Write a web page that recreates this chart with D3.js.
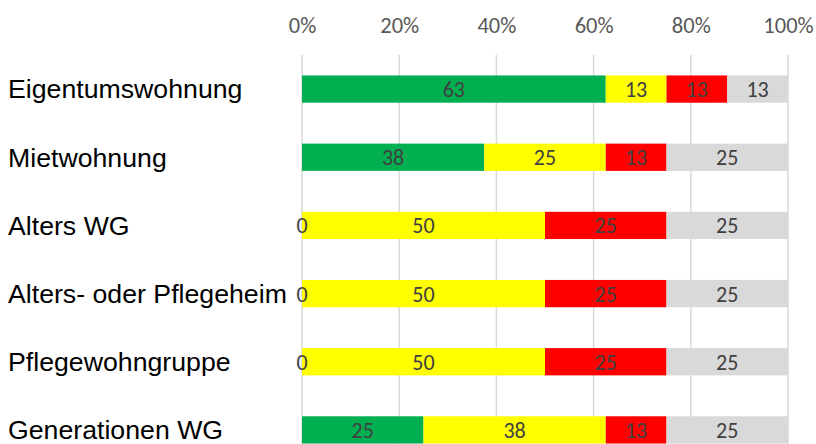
<!DOCTYPE html>
<html><head><meta charset="utf-8">
<script src="https://cdn.jsdelivr.net/npm/d3@7"></script>
<style>
html,body{margin:0;padding:0;background:#fff;}
svg{display:block;}
</style></head>
<body>
<svg id="chart" width="816" height="444"></svg>
<script>
const categories = ["Eigentumswohnung","Mietwohnung","Alters WG","Alters- oder Pflegeheim","Pflegewohngruppe","Generationen WG"];
const seriesNames = ["Grün","Gelb","Rot","Grau"];
const seriesColors = ["#00B050","#FFFF00","#FF0000","#D9D9D9"];
const greenValues  = [62.5, 37.5, 0, 0, 0, 25];
const yellowValues = [12.5, 25, 50, 50, 50, 37.5];
const redValues    = [12.5, 12.5, 25, 25, 25, 12.5];
const grayValues   = [12.5, 25, 25, 25, 25, 25];
const tickValues = [0, 0.2, 0.4, 0.6, 0.8, 1.0];

const seriesValues = [greenValues, yellowValues, redValues, grayValues];
const rows = categories.map((c, i) => {
  const r = {cat: c};
  seriesNames.forEach((s, k) => r[s] = seriesValues[k][i]);
  return r;
});
const totals = rows.map(r => seriesNames.reduce((a, s) => a + r[s], 0));
const norm = rows.map((r, i) => {
  const o = {cat: r.cat};
  seriesNames.forEach(s => o[s] = r[s] / totals[i]);
  return o;
});
const stacked = d3.stack().keys(seriesNames)(norm);

const svg = d3.select("#chart");
const x = d3.scaleLinear().domain([0, 1]).range([302, 788]);
const y = d3.scaleBand().domain(categories).range([55, 464]).paddingInner(0.6).paddingOuter(0.3);

const numFont = "Carlito, Calibri, 'Liberation Sans Narrow', Lato, sans-serif";

// gridlines
svg.append("g").selectAll("line").data(tickValues).join("line")
  .attr("x1", d => x(d)).attr("x2", d => x(d))
  .attr("y1", 55).attr("y2", 444)
  .attr("stroke", "#D9D9D9").attr("stroke-width", 1.5);

// top axis labels
const axis = d3.axisTop(x).tickValues(tickValues).tickFormat(d3.format(".0%")).tickSize(0).tickPadding(0);
const ag = svg.append("g").attr("transform", "translate(0,33)").call(axis);
ag.select(".domain").remove();
ag.selectAll("text").attr("fill", "#595959").style("font-family", numFont).style("font-size", "22.5px");

// bars
const layers = svg.append("g").selectAll("g").data(stacked).join("g")
  .attr("fill", (d, i) => seriesColors[i]);
layers.selectAll("rect").data(d => d.map(v => ({v0: v[0], v1: v[1], cat: v.data.cat}))).join("rect")
  .attr("x", d => x(d.v0)).attr("width", d => x(d.v1) - x(d.v0))
  .attr("y", d => y(d.cat)).attr("height", y.bandwidth());

// data labels
const lg = svg.append("g");
stacked.forEach((layer, k) => {
  layer.forEach((v, i) => {
    const val = seriesValues[k][i];
    lg.append("text")
      .attr("x", x((v[0] + v[1]) / 2))
      .attr("y", y(categories[i]) + y.bandwidth() / 2)
      .attr("dy", "0.36em")
      .attr("text-anchor", "middle")
      .attr("fill", "#404040")
      .style("font-family", numFont).style("font-size", "22px")
      .text(Math.round(val));
  });
});

// category labels
svg.append("g").selectAll("text").data(categories).join("text")
  .attr("x", 8).attr("y", d => y(d) + y.bandwidth() / 2)
  .attr("dy", "0.35em")
  .attr("fill", "#000")
  .style("font-family", "Arial, 'Liberation Sans', sans-serif").style("font-size", "26.7px")
  .text(d => d);
</script>
</body></html>
